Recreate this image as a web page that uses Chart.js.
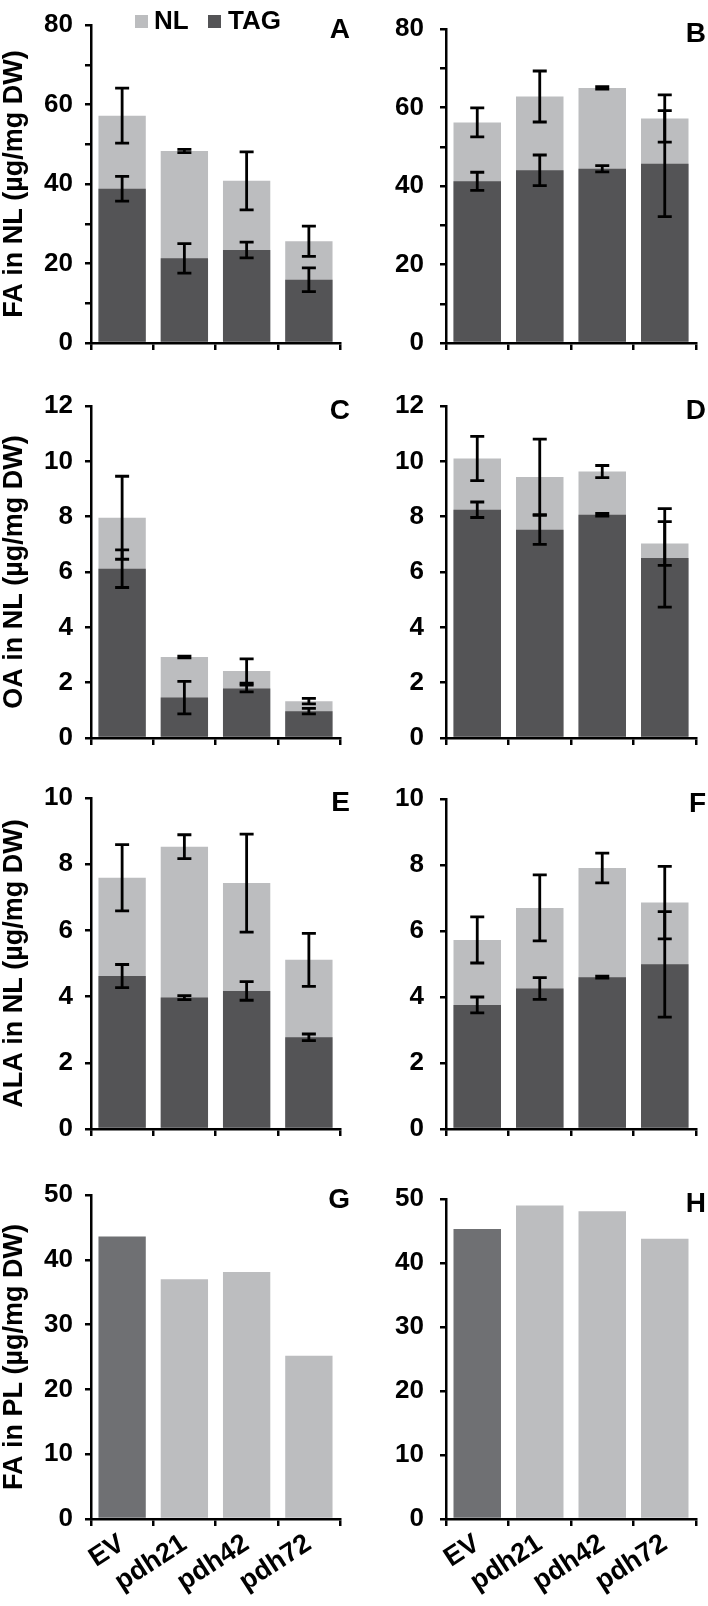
<!DOCTYPE html>
<html>
<head>
<meta charset="utf-8">
<script src="https://cdn.jsdelivr.net/npm/chart.js@4.4.1/dist/chart.umd.min.js"></script>
<style>
  body { margin: 0; background: #fff; }
  #fig { position: relative; width: 708px; height: 1606px; overflow: hidden; }
  #fig canvas { position: absolute; }
</style>
</head>
<body>
<div id="fig">
  <canvas id="cA" width="354" height="375" style="left:0;top:0"></canvas>
  <canvas id="cB" width="354" height="375" style="left:354px;top:0"></canvas>
  <canvas id="cC" width="354" height="395" style="left:0;top:375px"></canvas>
  <canvas id="cD" width="354" height="395" style="left:354px;top:375px"></canvas>
  <canvas id="cE" width="354" height="400" style="left:0;top:770px"></canvas>
  <canvas id="cF" width="354" height="400" style="left:354px;top:770px"></canvas>
  <canvas id="cG" width="354" height="436" style="left:0;top:1170px"></canvas>
  <canvas id="cH" width="354" height="436" style="left:354px;top:1170px"></canvas>
</div>
<script>
// strains on the x axis
const strains = ['EV', 'pdh21', 'pdh42', 'pdh72'];

// A, B: total fatty acids in neutral lipids (NL) and TAG
const faNL_A = [57.2, 48.3, 40.8, 25.6];
const faNLerr_A = [6.9, 0.4, 7.3, 3.8];
const faTAG_A = [38.8, 21.3, 23.4, 15.9];
const faTAGerr_A = [3.1, 3.7, 2.0, 3.0];

const faNL_B = [56.2, 62.8, 65.0, 57.2];
const faNLerr_B = [3.7, 6.5, 0.3, 6.0];
const faTAG_B = [41.2, 44.0, 44.4, 45.7];
const faTAGerr_B = [2.3, 3.9, 0.8, 13.5];

// C, D: oleic acid
const oaNL_C = [7.96, 2.93, 2.42, 1.33];
const oaNLerr_C = [1.5, 0.03, 0.44, 0.1];
const oaTAG_C = [6.12, 1.46, 1.79, 0.97];
const oaTAGerr_C = [0.68, 0.59, 0.12, 0.1];

const oaNL_D = [10.1, 9.43, 9.63, 7.03];
const oaNLerr_D = [0.8, 1.37, 0.22, 0.79];
const oaTAG_D = [8.25, 7.53, 8.07, 6.51];
const oaTAGerr_D = [0.28, 0.53, 0.05, 1.78];

// E, F: alpha-linolenic acid
const alaNL_E = [7.59, 8.53, 7.43, 5.11];
const alaNLerr_E = [1.0, 0.36, 1.48, 0.8];
const alaTAG_E = [4.62, 3.97, 4.17, 2.77];
const alaTAGerr_E = [0.35, 0.06, 0.28, 0.1];

const alaNL_F = [5.73, 6.70, 7.91, 6.86];
const alaNLerr_F = [0.7, 1.0, 0.45, 1.1];
const alaTAG_F = [3.76, 4.26, 4.60, 4.99];
const alaTAGerr_F = [0.24, 0.33, 0.03, 1.6];

// G, H: fatty acids in polar lipids
const plFA_G = [43.6, 37.0, 38.1, 25.2];
const plFA_H = [45.3, 49.0, 48.1, 43.8];

// y axis ranges: [max, tick step, label step]
const yFA = [80, 10, 20];
const yOA = [12, 2, 2];
const yALA = [10, 2, 2];
const yPL = [50, 10, 10];

const FONT = '"Liberation Sans", Arial, sans-serif';
const NL_COLOR = '#bcbdbf';
const TAG_COLOR = '#545456';
const EV_COLOR = '#6f7073';

const panelDecor = {
    id: 'panelDecor',
    afterDatasetsDraw(chart, args, opts) {
        const ctx = chart.ctx;
        const yScale = chart.scales.y;
        ctx.save();
        ctx.strokeStyle = '#000';
        ctx.lineWidth = 2.8;
        chart.data.datasets.forEach((ds, i) => {
            if (!ds.errors) return;
            chart.getDatasetMeta(i).data.forEach((bar, j) => {
                const v = ds.data[j], e = ds.errors[j];
                const y1 = yScale.getPixelForValue(v + e);
                const y2 = yScale.getPixelForValue(v - e);
                ctx.beginPath();
                ctx.moveTo(bar.x, y1); ctx.lineTo(bar.x, y2);
                ctx.moveTo(bar.x - 7, y1); ctx.lineTo(bar.x + 7, y1);
                ctx.moveTo(bar.x - 7, y2); ctx.lineTo(bar.x + 7, y2);
                ctx.stroke();
            });
        });
        ctx.restore();
    },
    afterDraw(chart, args, opts) {
        const ctx = chart.ctx;
        const top = chart.chartArea.top;
        ctx.save();
        ctx.fillStyle = '#000';
        ctx.font = 'bold 28px ' + FONT;
        ctx.textAlign = 'right';
        ctx.textBaseline = 'middle';
        ctx.fillText(opts.letter, chart.width - opts.letterRight, top + 5);
        if (opts.legend) {
            ctx.font = 'bold 26px ' + FONT;
            ctx.textAlign = 'left';
            ctx.fillStyle = NL_COLOR;
            ctx.fillRect(135, 15, 13, 13);
            ctx.fillStyle = TAG_COLOR;
            ctx.fillRect(208, 15, 13, 13);
            ctx.fillStyle = '#000';
            ctx.fillText('NL', 154, 22);
            ctx.fillText('TAG', 228, 22);
        }
        ctx.restore();
    }
};

function makePanel(id, datasets, yRange, p) {
    const [yMax, step, labelStep] = yRange;
    new Chart(document.getElementById(id), {
        type: 'bar',
        data: { labels: strains, datasets: datasets },
        options: {
            responsive: false,
            animation: false,
            layout: { padding: { left: 0, right: p.right, top: p.top, bottom: p.bottom } },
            datasets: { bar: { grouped: false, barPercentage: 0.76, categoryPercentage: 1 } },
            plugins: {
                legend: { display: false },
                tooltip: { enabled: false },
                panelDecor: { letter: p.letter, letterRight: p.letterRight, legend: !!p.legend }
            },
            scales: {
                x: {
                    offset: true,
                    grid: { offset: true, drawOnChartArea: false, drawTicks: true, tickLength: 7, color: '#000', lineWidth: 2.5 },
                    border: { color: '#000', width: 2.5 },
                    ticks: {
                        display: !!p.xLabels, color: '#000', maxRotation: 33, minRotation: 33, padding: 4,
                        font: { family: FONT, size: 27, weight: 'bold', lineHeight: 1 }
                    },
                    afterFit: s => { s.height = p.xHeight; }
                },
                y: {
                    min: 0, max: yMax,
                    grid: { drawOnChartArea: false, drawTicks: true, tickLength: 6, color: '#000', lineWidth: 2.5 },
                    border: { color: '#000', width: 2.5 },
                    ticks: {
                        stepSize: step, color: '#000', padding: p.tickPad,
                        font: { family: FONT, size: 26, weight: 'bold', lineHeight: 1 },
                        callback: v => (v % labelStep === 0 ? v : '')
                    },
                    title: {
                        display: !!p.yTitle, text: p.yTitle || '', color: '#000', padding: { top: 1, bottom: 0 },
                        font: { family: FONT, size: 27, weight: 'bold', lineHeight: 1 }
                    },
                    afterFit: s => { s.width = p.yWidth; }
                }
            }
        },
        plugins: [panelDecor]
    });
}

function nlTag(nl, nlErr, tag, tagErr) {
    return [
        { label: 'NL', data: nl, errors: nlErr, backgroundColor: NL_COLOR, order: 1 },
        { label: 'TAG', data: tag, errors: tagErr, backgroundColor: TAG_COLOR, order: 0 }
    ];
}

function plSet(values) {
    return [{ label: 'PL', data: values, backgroundColor: [EV_COLOR, NL_COLOR, NL_COLOR, NL_COLOR] }];
}

const leftCol = { right: 14, yWidth: 91, tickPad: 12, letterRight: 4 };
const rightCol = { right: 12, yWidth: 92, tickPad: 16, letterRight: 2 };

makePanel('cA', nlTag(faNL_A, faNLerr_A, faTAG_A, faTAGerr_A), yFA,
    Object.assign({}, leftCol, { top: 13, bottom: 22, xHeight: 10, letter: 'A', legend: true, yTitle: 'FA in NL (µg/mg DW)' }));
makePanel('cB', nlTag(faNL_B, faNLerr_B, faTAG_B, faTAGerr_B), yFA,
    Object.assign({}, rightCol, { top: 13, bottom: 22, xHeight: 10, letter: 'B' }));
makePanel('cC', nlTag(oaNL_C, oaNLerr_C, oaTAG_C, oaTAGerr_C), yOA,
    Object.assign({}, leftCol, { top: 31, bottom: 22, xHeight: 10, letter: 'C', yTitle: 'OA in NL (µg/mg DW)' }));
makePanel('cD', nlTag(oaNL_D, oaNLerr_D, oaTAG_D, oaTAGerr_D), yOA,
    Object.assign({}, rightCol, { top: 31, bottom: 22, xHeight: 10, letter: 'D' }));
makePanel('cE', nlTag(alaNL_E, alaNLerr_E, alaTAG_E, alaTAGerr_E), yALA,
    Object.assign({}, leftCol, { top: 28, bottom: 31, xHeight: 10, letter: 'E', yTitle: 'ALA in NL (µg/mg DW)' }));
makePanel('cF', nlTag(alaNL_F, alaNLerr_F, alaTAG_F, alaTAGerr_F), yALA,
    Object.assign({}, rightCol, { top: 28, bottom: 31, xHeight: 10, letter: 'F' }));
makePanel('cG', plSet(plFA_G), yPL,
    Object.assign({}, leftCol, { top: 20, bottom: 7, xHeight: 80, letter: 'G', xLabels: true, yTitle: 'FA in PL (µg/mg DW)' }));
makePanel('cH', plSet(plFA_H), yPL,
    Object.assign({}, rightCol, { top: 20, bottom: 7, xHeight: 80, letter: 'H', xLabels: true }));
</script>
</body>
</html>
